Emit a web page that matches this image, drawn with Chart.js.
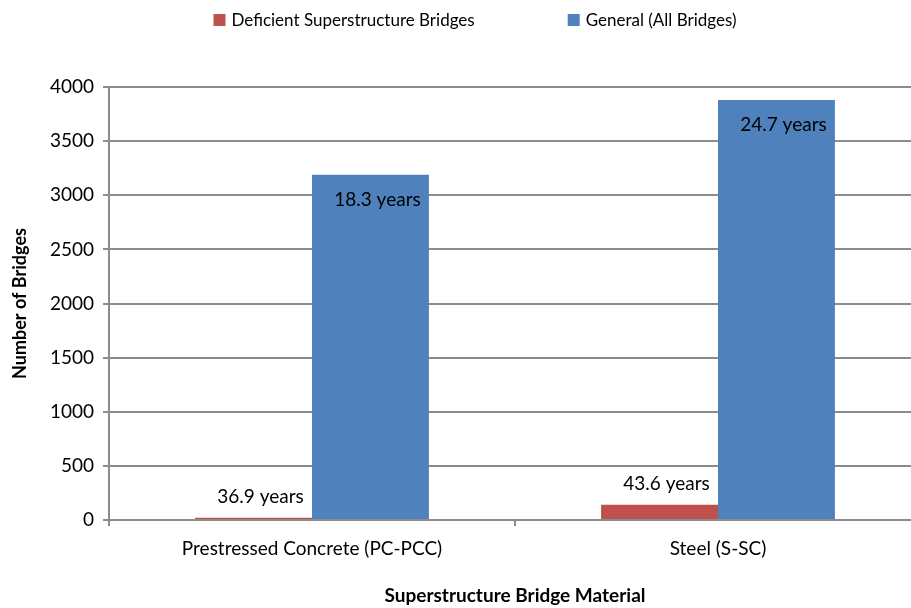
<!DOCTYPE html>
<html>
<head>
<meta charset="utf-8">
<script src="https://cdn.jsdelivr.net/npm/chart.js@4/dist/chart.umd.min.js"></script>
<style>
  html, body { margin: 0; padding: 0; background: #fff; overflow: hidden; }
  #wrap { width: 911px; height: 608px; position: relative; overflow: hidden; }
  #chart { display: block; }
</style>
</head>
<body>
<div id="wrap"><canvas id="chart" width="921" height="608"></canvas></div>
<script>
// Bridge counts by superstructure material
const materials = ['Prestressed Concrete (PC-PCC)', 'Steel (S-SC)'];
const deficientCounts = [20, 140];
const generalCounts = [3190, 3880];
// Average age labels (years)
const deficientAges = [36.9, 43.6];
const generalAges = [18.3, 24.7];
const yTicks = [0, 500, 1000, 1500, 2000, 2500, 3000, 3500, 4000];

const FONT = 'Lato, "Open Sans", sans-serif';
const GRID = '#8c8c8c';

// Writes the "xx.x years" label for each bar
const ageLabels = {
  id: 'ageLabels',
  afterDatasetsDraw(chart) {
    const ctx = chart.ctx;
    ctx.save();
    ctx.font = '19px ' + FONT;
    ctx.fillStyle = '#000';
    ctx.textAlign = 'center';
    ctx.textBaseline = 'middle';
    chart.data.datasets.forEach((ds, di) => {
      const meta = chart.getDatasetMeta(di);
      meta.data.forEach((bar, i) => {
        const text = ds.ages[i] + ' years';
        const y = ds.labelInside ? bar.y + 25 : bar.y - 21;
        ctx.fillText(text, bar.x + 7, y);
      });
    });
    ctx.restore();
  }
};

// Legend row across the top
const topLegend = {
  id: 'topLegend',
  afterDraw(chart) {
    const ctx = chart.ctx;
    ctx.save();
    ctx.font = '17px ' + FONT;
    ctx.textBaseline = 'middle';
    ctx.textAlign = 'left';
    const box = 12, gapText = 6, gapItem = 93, cy = 20;
    const items = chart.data.datasets.map(ds => ({
      label: ds.label, color: ds.backgroundColor, w: ctx.measureText(ds.label).width
    }));
    const total = items.reduce((s, it) => s + box + gapText + it.w, 0) + gapItem * (items.length - 1);
    let x = 475 - total / 2;
    items.forEach(it => {
      ctx.fillStyle = it.color;
      ctx.fillRect(x, cy - box / 2, box, box);
      ctx.fillStyle = '#000';
      ctx.fillText(it.label, x + box + gapText, cy + 1);
      x += box + gapText + it.w + gapItem;
    });
    ctx.restore();
  }
};

new Chart(document.getElementById('chart'), {
  type: 'bar',
  data: {
    labels: materials,
    datasets: [
      {
        label: 'Deficient Superstructure Bridges',
        data: deficientCounts,
        ages: deficientAges,
        labelInside: false,
        backgroundColor: '#C0504D'
      },
      {
        label: 'General (All Bridges)',
        data: generalCounts,
        ages: generalAges,
        labelInside: true,
        backgroundColor: '#4F81BD'
      }
    ]
  },
  options: {
    responsive: false,
    animation: false,
    devicePixelRatio: 1,
    layout: { padding: { left: 0, right: 0, top: 87, bottom: 0 } },
    datasets: {
      bar: { barPercentage: 1.0, categoryPercentage: 0.576 }
    },
    plugins: {
      legend: { display: false },
      tooltip: { enabled: false }
    },
    scales: {
      x: {
        afterFit(scale) { scale.height = 88; },
        grid: {
          offset: true,
          drawOnChartArea: false,
          drawTicks: true,
          tickLength: 6,
          color: GRID,
          lineWidth: 2
        },
        border: { color: GRID, width: 2 },
        ticks: {
          font: { family: FONT, size: 19 },
          color: '#000',
          padding: 11,
          maxRotation: 0
        },
        title: {
          display: true,
          text: 'Superstructure Bridge Material',
          font: { family: FONT, size: 19, weight: 'bold' },
          color: '#000',
          padding: { top: 0, bottom: 1 },
          align: 'center'
        }
      },
      y: {
        min: 0,
        max: 4000,
        afterFit(scale) { scale.width = 109; },
        afterBuildTicks(scale) { scale.ticks = yTicks.map(v => ({ value: v })); },
        grid: {
          drawTicks: true,
          tickLength: 6,
          color: GRID,
          lineWidth: 2
        },
        border: { color: GRID, width: 2 },
        ticks: {
          font: { family: FONT, size: 19 },
          color: '#000',
          padding: 9,
          callback: v => String(v)
        },
        title: {
          display: true,
          text: 'Number of Bridges',
          font: { family: FONT, size: 18, weight: 'bold' },
          color: '#000',
          padding: { top: 9, bottom: 0 }
        }
      }
    }
  },
  plugins: [ageLabels, topLegend]
});
</script>
</body>
</html>
